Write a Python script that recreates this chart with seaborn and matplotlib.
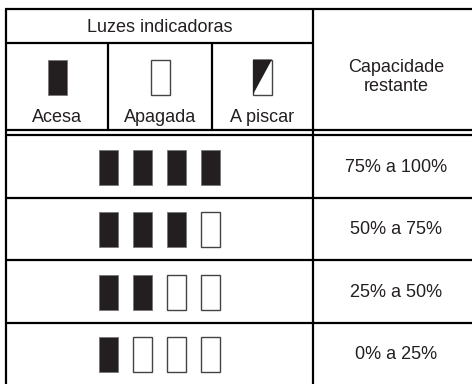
import numpy as np
import matplotlib
matplotlib.use("Agg")
import matplotlib.pyplot as plt
from matplotlib.patches import Rectangle, Polygon
import seaborn as sns

sns.set_style("white")
plt.rcParams['font.family'] = ['Liberation Sans', 'DejaVu Sans']

# data
header_title = "Luzes indicadoras"
legend_labels = ["Acesa", "Apagada", "A piscar"]
legend_states = ["on", "off", "blink"]
capacity_header = "Capacidade\nrestante"
capacity_labels = ["75% a 100%", "50% a 75%", "25% a 50%", "0% a 25%"]
lit_counts = [4, 3, 2, 1]
n_lights = 4

# layout (pixel coordinates, y down)
W, H = 472, 384
x_left, x_mid, x_right = 6, 313, 480
y_top, y_sub, y_dbl1, y_dbl2 = 9, 43, 130, 135
row_h = 62.5
legend_cols = [x_left, 108, 212, x_mid]
icon_w, icon_h = 19, 35
dark = "#231f20"
lw = 1.6

fig = plt.figure(figsize=(W / 100, H / 100), dpi=100)
ax = fig.add_axes([0, 0, 1, 1])
ax.set_xlim(0, W)
ax.set_ylim(H, 0)
ax.axis("off")


def draw_icon(cx, cy, state):
    x0, y0 = cx - icon_w / 2, cy - icon_h / 2
    if state == "on":
        ax.add_patch(Rectangle((x0, y0), icon_w, icon_h, facecolor=dark,
                               edgecolor="#777777", lw=0.6))
    elif state == "off":
        ax.add_patch(Rectangle((x0, y0), icon_w, icon_h, facecolor="white",
                               edgecolor="#444444", lw=1.0))
    else:
        ax.add_patch(Rectangle((x0, y0), icon_w, icon_h, facecolor="white",
                               edgecolor="#444444", lw=1.0))
        ax.add_patch(Polygon([(x0, y0), (x0 + icon_w, y0), (x0, y0 + icon_h)],
                             closed=True, facecolor=dark, edgecolor="none"))


def hline(y, x0, x1):
    ax.plot([x0, x1], [y, y], color="black", lw=lw, solid_capstyle="butt")


def vline(x, y0, y1):
    ax.plot([x, x], [y0, y1], color="black", lw=lw, solid_capstyle="butt")


# grid lines
row_edges = y_dbl2 + row_h * np.arange(len(capacity_labels) + 1)
hline(y_top, x_left - 1, x_right)
hline(y_sub, x_left, x_mid)
hline(y_dbl1, x_left, x_right)
hline(y_dbl2, x_left, x_right)
for y in row_edges[1:-1]:
    hline(y, x_left, x_right)
vline(x_left, y_top, H + 5)
vline(x_mid, y_top, H + 5)
for x in legend_cols[1:-1]:
    vline(x, y_sub, y_dbl1)

fs = 13
tc = "#231f20"
# header
ax.text((x_left + x_mid) / 2, (y_top + y_sub) / 2 + 1, header_title,
        ha="center", va="center", fontsize=fs, color=tc)
ax.text((x_mid + W) / 2 + 4, 77, capacity_header, ha="center", va="center",
        fontsize=fs, linespacing=1.1, color=tc)

for i, (lab, st) in enumerate(zip(legend_labels, legend_states)):
    cx = (legend_cols[i] + legend_cols[i + 1]) / 2
    draw_icon(cx, 77, st)
    ax.text(cx, 117, lab, ha="center", va="center", fontsize=fs, color=tc)

# rows
spacing = 34.3
centre_x = (x_left + x_mid) / 2
for r, (lab, n_on) in enumerate(zip(capacity_labels, lit_counts)):
    cy = (row_edges[r] + row_edges[r + 1]) / 2
    for k in range(n_lights):
        cx = centre_x + (k - (n_lights - 1) / 2) * spacing
        draw_icon(cx, cy + 1, "on" if k < n_on else "off")
    ax.text((x_mid + W) / 2 + 4, cy + 1, lab, ha="center", va="center",
            fontsize=fs, color=tc)

fig.savefig("out.png", dpi=100)
